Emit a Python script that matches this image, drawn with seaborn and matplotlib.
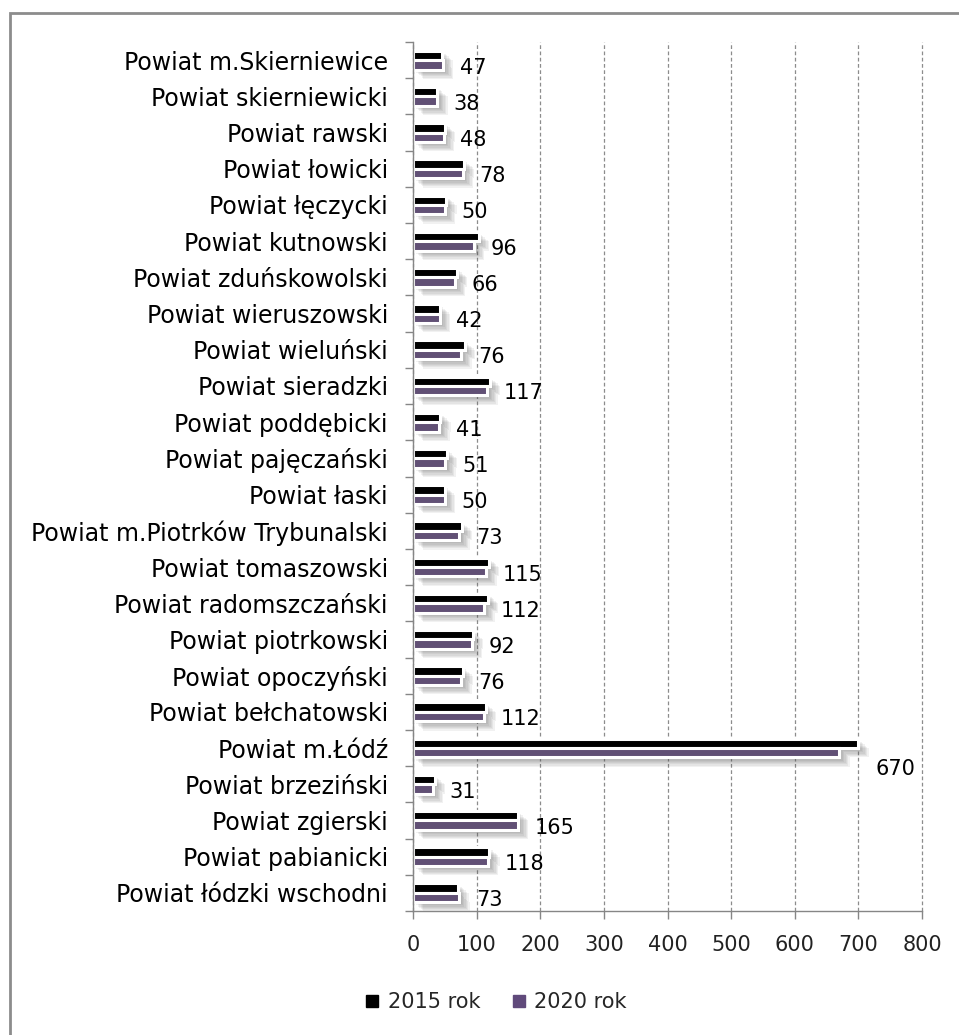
import matplotlib
matplotlib.use("Agg")
import matplotlib.pyplot as plt
import matplotlib.patheffects as pe
from matplotlib.patches import Rectangle
from matplotlib.lines import Line2D
import seaborn as sns
import pandas as pd
import numpy as np

# data (2020 values are printed, 2015)
powiaty = [
    "Powiat m.Skierniewice", "Powiat skierniewicki", "Powiat rawski", "Powiat łowicki",
    "Powiat łęczycki", "Powiat kutnowski", "Powiat zduńskowolski", "Powiat wieruszowski",
    "Powiat wieluński", "Powiat sieradzki", "Powiat poddębicki", "Powiat pajęczański",
    "Powiat łaski", "Powiat m.Piotrków Trybunalski", "Powiat tomaszowski",
    "Powiat radomszczański", "Powiat piotrkowski", "Powiat opoczyński",
    "Powiat bełchatowski", "Powiat m.Łódź", "Powiat brzeziński", "Powiat zgierski",
    "Powiat pabianicki", "Powiat łódzki wschodni",
]
v2015 = [46, 38, 50, 80, 52, 103, 69, 42, 81, 121, 43, 53, 50, 77, 119, 118, 94, 78, 114, 700, 34, 165, 120, 71]
v2020 = [47, 38, 48, 78, 50, 96, 66, 42, 76, 117, 41, 51, 50, 73, 115, 112, 92, 76, 112, 670, 31, 165, 118, 73]
serie = ["2015 rok", "2020 rok"]
kolory = {"2015 rok": "#000000", "2020 rok": "#604A7B"}
x_ticks = [0, 100, 200, 300, 400, 500, 600, 700, 800]

df = pd.DataFrame({
    "powiat": powiaty * 2,
    "rok": [serie[0]] * len(powiaty) + [serie[1]] * len(powiaty),
    "wartosc": v2015 + v2020,
})

sns.set_theme(style="white")
plt.rcParams['font.family'] = ['DejaVu Sans']

fig = plt.figure(figsize=(9.59, 10.35), dpi=100)
ax = fig.add_axes([413 / 959, 1 - 911 / 1035, (922 - 413) / 959, (911 - 42) / 1035])

sns.barplot(data=df, x="wartosc", y="powiat", hue="rok", hue_order=serie,
            palette=kolory, orient="h", width=0.52, edgecolor="white",
            linewidth=2.2, legend=False, ax=ax)

# soft drop shadow behind the bars
shadow = [pe.SimplePatchShadow(offset=(o, -o * 0.9), shadow_rgbFace="#505050", alpha=0.08)
          for o in (1.5, 2.5, 3.5, 4.5, 5.5, 6.5, 7.5)]
for patch in ax.patches:
    patch.set_path_effects(shadow + [pe.Normal()])

# value labels for 2020
for i, (name, val) in enumerate(zip(powiaty, v2020)):
    if val > 400:
        off = (26, -12)
    else:
        off = (12, -2)
    ax.annotate(str(val), xy=(val, i + 0.13), xytext=off, textcoords="offset points",
                ha="left", va="center", fontsize=15, color="black")

ax.set_xlim(0, 800)
ax.set_ylim(len(powiaty) - 0.5, -0.5)
ax.set_xticks(x_ticks)
ax.set_xlabel("")
ax.set_ylabel("")
ax.grid(axis="x", color="#8c8c8c", linestyle=(0, (3, 2)), linewidth=0.9)
ax.set_axisbelow(True)
for gl in ax.get_xgridlines():
    gl.set_clip_on(False)

for s in ["top", "right"]:
    ax.spines[s].set_visible(False)
for s in ["left", "bottom"]:
    ax.spines[s].set_color("#868686")
    ax.spines[s].set_linewidth(1.0)

ax.set_yticks(np.arange(len(powiaty)))
ax.set_yticklabels(powiaty)
ax.set_yticks(np.arange(len(powiaty) + 1) - 0.5, minor=True)
ax.tick_params(axis="y", which="major", length=0, pad=18, labelsize=17, labelcolor="black")
ax.tick_params(axis="y", which="minor", left=True, length=6, color="#868686", width=1)
ax.tick_params(axis="x", which="major", bottom=True, length=5.5, color="#868686", width=1,
               pad=12, labelsize=15, labelcolor="#222222")

handles = [Line2D([], [], marker="s", linestyle="", color=kolory[s], markersize=9) for s in serie]
fig.legend(handles, serie, loc="center", bbox_to_anchor=(0.516, 1 - 1002 / 1035), ncol=2,
           frameon=False, fontsize=15, handlelength=0.9, handletextpad=0.3, columnspacing=1.4)

# outer chart border
fig.patches.append(Rectangle((10 / 959, -0.1), 1.2, 1 - 13 / 1035 + 0.1,
                             transform=fig.transFigure, fill=False,
                             edgecolor="#8c8c8c", linewidth=2))

fig.savefig("out.png", dpi=100, facecolor="white")
